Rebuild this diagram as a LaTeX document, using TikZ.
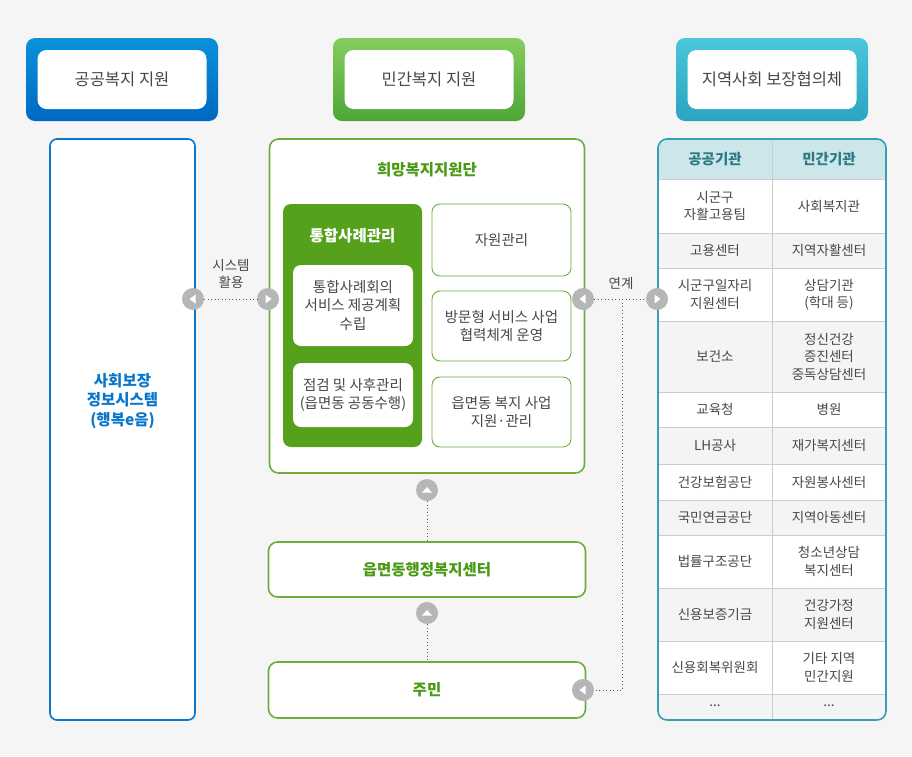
\documentclass[tikz,border=0pt]{standalone}
\usepackage{fontspec}
\setmainfont{Noto Sans CJK KR}
\definecolor{bgc}{HTML}{F5F5F5}
\definecolor{blueA}{HTML}{0A92DA}
\definecolor{blueB}{HTML}{0068C2}
\definecolor{blueL}{HTML}{0A77CC}
\definecolor{greenA}{HTML}{86CC5E}
\definecolor{greenB}{HTML}{4EA636}
\definecolor{greenL}{HTML}{6BAE3C}
\definecolor{greenD}{HTML}{55A11B}
\definecolor{greenT}{HTML}{4A9A14}
\definecolor{tealA}{HTML}{4CC6DC}
\definecolor{tealB}{HTML}{2AA4C0}
\definecolor{tealL}{HTML}{3A9FB2}
\definecolor{tealH}{HTML}{CDE6EA}
\definecolor{tealT}{HTML}{2B7A86}
\definecolor{txt}{HTML}{484848}
\definecolor{rowg}{HTML}{F4F4F4}
\definecolor{gridc}{HTML}{CCCCCC}
\definecolor{circc}{HTML}{B6B6B6}
\tikzset{
  hdrin/.style={fill=white, minimum width=169, minimum height=59, rounded corners=9, text=txt, font=\fontsize{16.5}{19}\selectfont},
  gbox/.style={draw=greenL, line width=1.6, fill=white, rounded corners=9, inner sep=0},
  sbox/.style={draw=greenL, line width=0.9, fill=white, rounded corners=8, minimum width=139, align=center, text=txt, font=\fontsize{14.5}{18.5}\selectfont},
  wbox/.style={fill=white, rounded corners=8, minimum width=120, align=center, text=txt, font=\fontsize{14.5}{18.5}\selectfont},
  circ/.style={circle, fill=circc, minimum size=22, inner sep=0},
  dotl/.style={dash pattern=on 1pt off 2.5pt, draw=black!65, line width=0.9},
  cell/.style={align=center, text=txt, font=\fontsize{13.5}{17.5}\selectfont},
  triR/.pic={\fill[white] (-2.5,-4.5) -- (3.5,0) -- (-2.5,4.5) -- cycle;},
  triL/.pic={\fill[white] (2.5,-4.5) -- (-3.5,0) -- (2.5,4.5) -- cycle;},
  triU/.pic={\fill[white] (-5,2.5) -- (0,-3) -- (5,2.5) -- cycle;}
}
\begin{document}
\begin{tikzpicture}[x=1pt,y=-1pt]
\fill[bgc] (0,0) rectangle (912,756);
\useasboundingbox (0,0) rectangle (912,756);

% headers
\shade[top color=blueA, bottom color=blueB, rounded corners=9] (26,38) rectangle (218,121);
\node[hdrin] (h1) at (122,79.5) {공공복지 지원};
\shade[top color=greenA, bottom color=greenB, rounded corners=9] (333,38) rectangle (525,121);
\node[hdrin] (h2) at (429,79.5) {민간복지 지원};
\shade[top color=tealA, bottom color=tealB, rounded corners=9] (676,38) rectangle (868,121);
\node[hdrin] (h3) at (772,79.5) {지역사회 보장협의체};

% left system box
\node[draw=blueL, line width=1.6, fill=white, rounded corners=7, minimum width=145, minimum height=581] (left) at (122.5,429.5) {};
\node[align=center, text=blueL, font=\bfseries\fontsize{15.5}{19.5}\selectfont] (ssis) at (122.5,401) {사회보장\\정보시스템\\(행복e음)};

% centre main box
\node[gbox, minimum width=315, minimum height=334] (hope) at (427,306) {};
\node[text=greenT, font=\bfseries\fontsize{15.5}{18}\selectfont] (hopet) at (427,170) {희망복지지원단};
\node[fill=greenD, rounded corners=8, minimum width=139, minimum height=243] (cm) at (352.5,325.5) {};
\node[text=white, font=\bfseries\fontsize{15.5}{18}\selectfont] (cmt) at (352.5,236) {통합사례관리};
\node[wbox, minimum height=81] (w1) at (353,305.5) {통합사례회의\\서비스 제공계획\\수립};
\node[wbox, minimum height=64] (w2) at (353,395) {점검 및 사후관리\\(읍면동 공동수행)};
\node[sbox, minimum height=72] (s1) at (501.5,240) {자원관리};
\node[sbox, minimum height=70] (s2) at (501.5,326) {방문형 서비스 사업\\협력체계 운영};
\node[sbox, minimum height=70] (s3) at (501.5,412) {읍면동 복지 사업\\지원·관리};

% lower boxes
\node[gbox, minimum width=317, minimum height=55, text=greenT, font=\bfseries\fontsize{15.5}{18}\selectfont] (emd) at (427,569.5) {읍면동행정복지센터};
\node[gbox, minimum width=317, minimum height=56, text=greenT, font=\bfseries\fontsize{15.5}{18}\selectfont] (res) at (427,690) {주민};

% vertical connectors
\node[circ] (u1) at (427,490) {};
\pic at (u1) {triU};
\node[circ] (u2) at (427,613) {};
\pic at (u2) {triU};
\draw[dotl] (u1.south) -- (emd.north);
\draw[dotl] (u2.south) -- (res.north);

% table
\begin{scope}
\clip[rounded corners=9] (658,139) rectangle (886,720);
\fill[tealH] (658,139) rectangle (886,179);
\foreach \ya/\yb/\fc in {179/233/white,233/268/rowg,268/321/white,321/392/rowg,392/427/white,427/464/rowg,464/500/white,500/535/rowg,535/588/white,588/641/rowg,641/694/white,694/720/rowg}{
  \fill[\fc] (658,\ya) rectangle (886,\yb);
  \draw[gridc, line width=0.8] (658,\ya) -- (886,\ya);
}
\draw[gridc, line width=0.8] (772,139) -- (772,720);
\end{scope}
\node[draw=tealL, line width=1.6, rounded corners=9, minimum width=228, minimum height=581] (tbl) at (772,429.5) {};
\node[text=tealT, font=\bfseries\fontsize{14.5}{18}\selectfont] (th1) at (715,159) {공공기관};
\node[text=tealT, font=\bfseries\fontsize{14.5}{18}\selectfont] (th2) at (829,159) {민간기관};
\foreach \yc/\ta/\tb [count=\i] in {
  206/{시군구\\자활고용팀}/{사회복지관},
  250.5/{고용센터}/{지역자활센터},
  294.5/{시군구일자리\\지원센터}/{상담기관\\(학대 등)},
  356.5/{보건소}/{정신건강\\증진센터\\중독상담센터},
  409.5/{교육청}/{병원},
  445.5/{LH공사}/{재가복지센터},
  482/{건강보험공단}/{자원봉사센터},
  517.5/{국민연금공단}/{지역아동센터},
  561.5/{법률구조공단}/{청소년상담\\복지센터},
  614.5/{신용보증기금}/{건강가정\\지원센터},
  667.5/{신용회복위원회}/{기타 지역\\민간지원},
  706/{...}/{...}}{
  \node[cell] (ca\i) at (715,\yc) {\ta};
  \node[cell] (cb\i) at (829,\yc) {\tb};
}

% left connector
\node[circ] (l1) at (193,299) {};
\pic at (l1) {triL};
\node[circ] (l2) at (268,299) {};
\pic at (l2) {triR};
\draw[dotl] (l1.east) -- (l2.west);
\node[align=center, text=txt, font=\fontsize{13.5}{17.5}\selectfont] (sys) at (231,274) {시스템\\활용};

% right connector
\node[circ] (r1) at (583,299) {};
\pic at (r1) {triL};
\node[circ] (r2) at (657,299) {};
\pic at (r2) {triR};
\draw[dotl] (r1.east) -- (r2.west);
\node[text=txt, font=\fontsize{13.5}{17.5}\selectfont] (link) at (621,283) {연계};
\coordinate (j1) at (622,299);
\coordinate (j2) at (622,690);
\node[circ] (r3) at (583,690) {};
\pic at (r3) {triL};
\draw[dotl] (j1) -- (j2) -- (r3.east);
\end{tikzpicture}
\end{document}
